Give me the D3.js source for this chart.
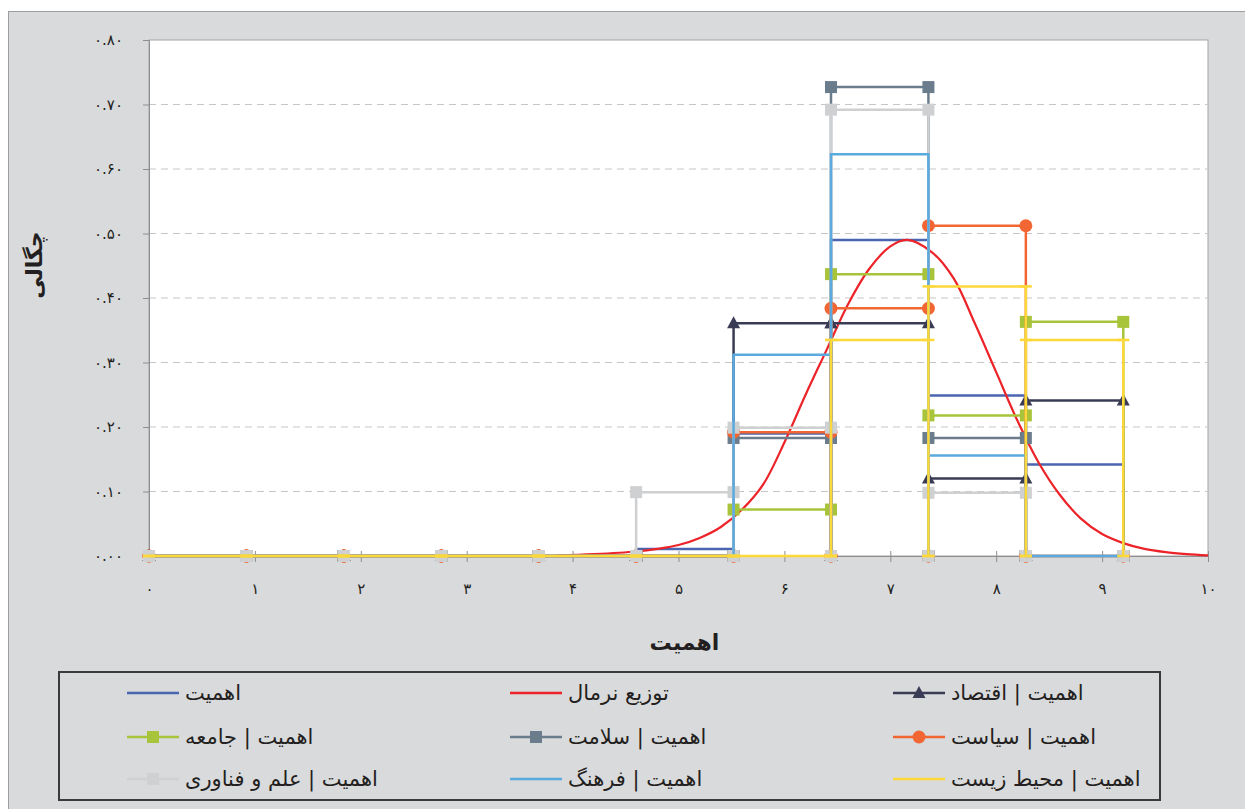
<!DOCTYPE html>
<html>
<head>
<meta charset="utf-8">
<script src="https://cdn.jsdelivr.net/npm/d3@7"></script>
<style>
  body { margin: 0; background: #fff; }
  svg { display: block; }
  text { font-family: "DejaVu Sans", sans-serif; fill: #231f20; }
</style>
</head>
<body>
<script>
// bin edges of the histogram (x values)
const binEdges = [0, 0.92, 1.84, 2.76, 3.68, 4.6, 5.52, 6.44, 7.36, 8.28, 9.2];

// density per bin
const importance  = [0, 0, 0, 0, 0, 0.011, 0.19, 0.49, 0.249, 0.142];
const economy     = [0, 0, 0, 0, 0, 0, 0.361, 0.361, 0.12, 0.241];
const society     = [0, 0, 0, 0, 0, 0, 0.072, 0.437, 0.218, 0.363];
const health      = [0, 0, 0, 0, 0, 0, 0.183, 0.727, 0.183, 0];
const politics    = [0, 0, 0, 0, 0, 0, 0.192, 0.384, 0.512, 0];
const science     = [0, 0, 0, 0, 0, 0.099, 0.199, 0.692, 0.098, 0];
const culture     = [0, 0, 0, 0, 0, 0, 0.312, 0.623, 0.156, 0];
const environment = [0, 0, 0, 0, 0, 0, 0, 0.335, 0.418, 0.335];

// normal curve
const normalX = [3.85, 4.2, 4.6, 4.8, 5.0, 5.2, 5.4, 5.6, 5.8, 6.0, 6.2, 6.4, 6.6, 6.8, 7.0, 7.16,
                 7.4, 7.6, 7.8, 8.0, 8.2, 8.4, 8.6, 8.8, 9.0, 9.2, 9.4, 9.6, 9.8, 10.0];
const normalY = [0.001, 0.003, 0.007, 0.011, 0.017, 0.028, 0.045, 0.072, 0.111, 0.176, 0.25, 0.32,
                 0.39, 0.445, 0.48, 0.49, 0.47, 0.43, 0.36, 0.285, 0.21, 0.145, 0.095, 0.058,
                 0.034, 0.02, 0.011, 0.006, 0.003, 0.001];

const xTicks = [0, 1, 2, 3, 4, 5, 6, 7, 8, 9, 10];
const yTicks = [0, 0.1, 0.2, 0.3, 0.4, 0.5, 0.6, 0.7, 0.8];

const legendLabels = ["اهمیت", "توزیع نرمال", "اهمیت | اقتصاد",
                      "اهمیت | جامعه", "اهمیت | سلامت", "اهمیت | سیاست",
                      "اهمیت | علم و فناوری", "اهمیت | فرهنگ", "اهمیت | محیط زیست"];

const fa = s => String(s).replace(/\d/g, d => "۰۱۲۳۴۵۶۷۸۹"[d]);

// series in drawing order (later on top)
const series = [
  { name: legendLabels[0], values: importance,  color: "#4a66b0", marker: null },
  { name: legendLabels[1], normal: true,         color: "#ec2328", marker: null },
  { name: legendLabels[2], values: economy,     color: "#3a3c56", marker: "triangle" },
  { name: legendLabels[3], values: society,     color: "#a7c43a", marker: "square" },
  { name: legendLabels[4], values: health,      color: "#6b7c8c", marker: "square" },
  { name: legendLabels[5], values: politics,    color: "#f26633", marker: "circle" },
  { name: legendLabels[6], values: science,     color: "#cfd0d2", marker: "square" },
  { name: legendLabels[7], values: culture,     color: "#5aaae0", marker: null },
  { name: legendLabels[8], values: environment, color: "#fdd83a", marker: "dash" }
];

const width = 1245, height = 809;

const x = d3.scaleLinear().domain([0, 10]).range([149, 1208]);
const y = d3.scaleLinear().domain([0, 0.8]).range([556, 40]);

const svg = d3.select("body").append("svg")
    .attr("width", width)
    .attr("height", height);

// chart background
svg.append("rect")
    .attr("x", 8.5).attr("y", 11.5)
    .attr("width", width).attr("height", height)
    .attr("fill", "#d9dadc")
    .attr("stroke", "#9d9ea0");

svg.append("rect")
    .attr("x", x(0)).attr("y", y(0.8))
    .attr("width", x(10) - x(0)).attr("height", y(0) - y(0.8))
    .attr("fill", "#fff")
    .attr("stroke", "#a3a3a3");

// grid
svg.append("g")
  .selectAll("line")
  .data(yTicks.filter(d => d > 0 && d < 0.8))
  .join("line")
    .attr("x1", x(0)).attr("x2", x(10))
    .attr("y1", d => y(d)).attr("y2", d => y(d))
    .attr("stroke", "#c6c6c6")
    .attr("stroke-dasharray", "7,5");

// axes
const yAxis = svg.append("g")
    .attr("transform", `translate(${x(0)},0)`)
    .call(d3.axisLeft(y).tickValues(yTicks).tickSize(6).tickPadding(20)
      .tickFormat(d => fa(d.toFixed(2))));

const xAxis = svg.append("g")
    .attr("transform", `translate(0,${y(0)})`)
    .call(d3.axisBottom(x).tickValues(xTicks).tickSize(6).tickPadding(21)
      .tickFormat(d => fa(d)));
xAxis.selectAll(".tick line").attr("y1", -5).attr("y2", 6);

[xAxis, yAxis].forEach(g => {
  g.select(".domain").attr("stroke", "#8e8e8e");
  g.selectAll(".tick line").attr("stroke", "#8e8e8e");
  g.selectAll("text").attr("font-family", "DejaVu Sans").attr("fill", "#231f20");
});
yAxis.selectAll("text").attr("font-size", 15);
xAxis.selectAll("text").attr("font-size", 15);

// axis titles
svg.append("text")
    .attr("transform", `translate(${(x(0) + x(10)) / 2 + 6},650)`)
    .attr("text-anchor", "middle")
    .attr("font-size", 22)
    .attr("font-weight", "bold")
    .text("اهمیت");

svg.append("text")
    .attr("transform", "translate(42,265) rotate(-90)")
    .attr("text-anchor", "middle")
    .attr("font-size", 22)
    .attr("font-weight", "bold")
    .text("چگالی");

// each bin is drawn as up - across - down, like the original scatter series
function stepPoints(values) {
  const pts = [];
  values.forEach((v, i) => {
    pts.push([binEdges[i], 0], [binEdges[i], v], [binEdges[i + 1], v], [binEdges[i + 1], 0]);
  });
  return pts;
}

const line = d3.line().x(d => x(d[0])).y(d => y(d[1]));
const curve = d3.line().x(d => x(d[0])).y(d => y(d[1])).curve(d3.curveCatmullRom);

function drawMarker(g, type, color, cx, cy) {
  if (type === "square") {
    g.append("rect").attr("x", cx - 6).attr("y", cy - 6)
      .attr("width", 12).attr("height", 12).attr("fill", color);
  } else if (type === "circle") {
    g.append("circle").attr("cx", cx).attr("cy", cy).attr("r", 6.5).attr("fill", color);
  } else if (type === "triangle") {
    g.append("path")
      .attr("d", `M${cx},${cy - 7}L${cx + 6.5},${cy + 5}L${cx - 6.5},${cy + 5}Z`)
      .attr("fill", color);
  } else if (type === "dash") {
    g.append("line").attr("x1", cx - 6).attr("x2", cx + 6)
      .attr("y1", cy).attr("y2", cy)
      .attr("stroke", color).attr("stroke-width", 2.5);
  }
}

const plot = svg.append("g");

series.forEach(s => {
  const g = plot.append("g");
  if (s.normal) {
    g.append("path")
      .datum(d3.zip(normalX, normalY))
      .attr("d", curve)
      .attr("fill", "none")
      .attr("stroke", s.color)
      .attr("stroke-width", 2.2);
    return;
  }
  const pts = stepPoints(s.values);
  g.append("path")
    .datum(pts)
    .attr("d", line)
    .attr("fill", "none")
    .attr("stroke", s.color)
    .attr("stroke-width", 2.5);
  if (s.marker) {
    pts.forEach(p => drawMarker(g, s.marker, s.color, x(p[0]), y(p[1])));
  }
});

// legend
const legend = svg.append("g");
legend.append("rect")
    .attr("x", 59).attr("y", 672)
    .attr("width", 1101).attr("height", 128)
    .attr("fill", "none")
    .attr("stroke", "#3a3a3a")
    .attr("stroke-width", 2);

const colX = [127, 510, 893], rowY = [693, 737, 779];

series.forEach((s, i) => {
  const lx = colX[i % 3], ly = rowY[Math.floor(i / 3)];
  const g = legend.append("g");
  g.append("line")
    .attr("x1", lx).attr("x2", lx + 52)
    .attr("y1", ly).attr("y2", ly)
    .attr("stroke", s.color)
    .attr("stroke-width", 2.5);
  if (s.marker && s.marker !== "dash") drawMarker(g, s.marker, s.color, lx + 26, ly);
  g.append("text")
    .attr("x", lx + 58)
    .attr("y", ly)
    .attr("dy", "0.35em")
    .attr("font-size", 21)
    .text(s.name);
});
</script>
</body>
</html>
